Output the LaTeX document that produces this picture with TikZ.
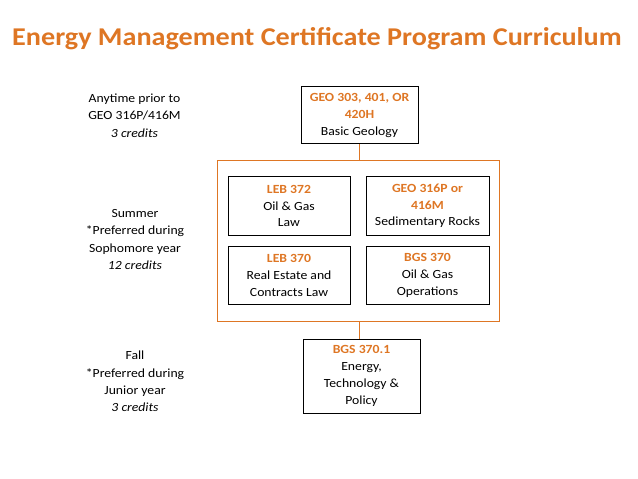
\documentclass[tikz,border=0pt]{standalone}
\usepackage{fontspec}
\setmainfont{Carlito}[FakeStretch=1.1]
\definecolor{orng}{RGB}{222,118,36}
\begin{document}
\begin{tikzpicture}[x=1bp,y=-1bp,
  course/.style={draw=black, line width=1bp, align=center, inner sep=0pt,
    font=\fontsize{12.5}{16.8}\selectfont},
  lbl/.style={align=center, inner sep=0pt, font=\fontsize{12.5}{17.4}\selectfont},
  conn/.style={draw=orng, line width=1bp}]
\useasboundingbox (0,0) rectangle (638,479);
\node[anchor=base, text=orng, font=\fontsize{25.7}{30}\bfseries\selectfont] (title) at (317,45.5) {Energy Management Certificate Program Curriculum};
% group box
\node[draw=orng, line width=1bp, minimum width=282bp, minimum height=160bp, inner sep=0pt] (group) at (358,241) {};
% courses
\node[course, minimum width=117bp, minimum height=57bp] (geo303) at (359.5,115.5)
  {\textcolor{orng}{\bfseries GEO 303, 401, OR}\\\textcolor{orng}{\bfseries 420H}\\Basic Geology};
\node[course, minimum width=122bp, minimum height=58bp] (leb372) at (289,206)
  {\textcolor{orng}{\bfseries LEB 372}\\Oil \& Gas\\Law};
\node[course, minimum width=123bp, minimum height=58bp] (geo316) at (427.5,206)
  {\textcolor{orng}{\bfseries GEO 316P or}\\\textcolor{orng}{\bfseries 416M}\\Sedimentary Rocks};
\node[course, minimum width=122bp, minimum height=58bp] (leb370) at (289,275.5)
  {\textcolor{orng}{\bfseries LEB 370}\\Real Estate and\\Contracts Law};
\node[course, minimum width=123bp, minimum height=58bp] (bgs370) at (427.5,275.5)
  {\textcolor{orng}{\bfseries BGS 370}\\Oil \& Gas\\Operations};
\node[course, minimum width=117bp, minimum height=74bp] (bgs3701) at (361.5,376)
  {\textcolor{orng}{\bfseries BGS 370.1}\\Energy,\\Technology \&\\Policy};
% connectors
\draw[conn] (geo303.south -| 359,0) -- (group.north -| 359,0);
\draw[conn] (group.south -| 359,0) -- (bgs3701.north -| 359,0);
% left labels
\node[lbl] (l1) at (134.5,115.5) {Anytime prior to\\GEO 316P/416M\\\textit{3 credits}};
\node[lbl] (l2) at (135,239.5) {Summer\\*Preferred during\\Sophomore year\\\textit{12 credits}};
\node[lbl] (l3) at (135,381.5) {Fall\\*Preferred during\\Junior year\\\textit{3 credits}};
\end{tikzpicture}
\end{document}
